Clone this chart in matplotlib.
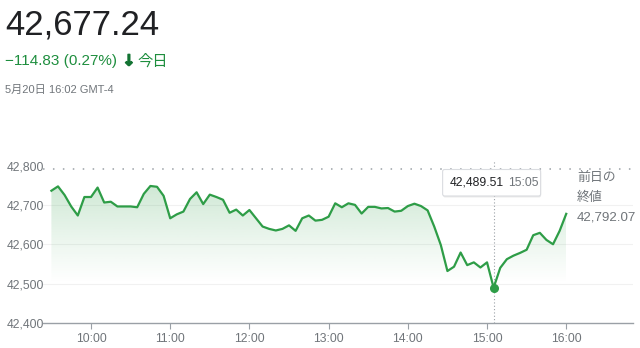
import numpy as np
import matplotlib
matplotlib.use("Agg")
import matplotlib.pyplot as plt
from matplotlib.patches import Polygon, FancyBboxPatch
from matplotlib.colors import to_rgb
from matplotlib.transforms import IdentityTransform
import matplotlib.patheffects as pe

plt.rcParams['font.family'] = ['Liberation Sans', 'Noto Sans CJK JP', 'DejaVu Sans']

# 5-minute closes, 9:30 .. 16:00
prices = [42736, 42747, 42725, 42696, 42673, 42720, 42720, 42744, 42706, 42708,
          42696, 42696, 42696, 42694, 42728, 42748, 42746, 42723, 42666, 42676,
          42683, 42715, 42732, 42702, 42726, 42720, 42713, 42680, 42688, 42673,
          42687, 42666, 42645, 42639, 42635, 42639, 42648, 42634, 42666, 42673,
          42660, 42662, 42670, 42704, 42694, 42704, 42700, 42678, 42695, 42695,
          42691, 42692, 42683, 42685, 42697, 42703, 42697, 42686, 42645, 42598,
          42532, 42543, 42579, 42547, 42554, 42541, 42554, 42489.51, 42540, 42562,
          42571, 42578, 42586, 42623, 42629, 42611, 42600, 42634, 42677.24]
start_hour = 9.5
step_min = 5
prev_close = 42792.07
last_price = 42677.24
change = "−114.83 (0.27%)"
today = "今日"
stamp = "5月20日 16:02 GMT-4"
hour_ticks = [10, 11, 12, 13, 14, 15, 16]
hour_labels = ["10:00", "11:00", "12:00", "13:00", "14:00", "15:00", "16:00"]
y_ticks = [42400, 42500, 42600, 42700, 42800]

GREEN = '#2e9d47'
TXT_GREEN = '#1e8e3e'
GRAY = '#70757a'
W, H = 640, 348

times = start_hour + np.arange(len(prices)) * step_min / 60.0
prices = np.array(prices)
imin = int(np.argmin(prices))
tmin = times[imin]
hh = int(tmin)
mm = int(round((tmin - hh) * 60))

fig = plt.figure(figsize=(W / 100, H / 100), dpi=100)
ax = fig.add_axes([43 / W, 1 - 323 / H, (633 - 43) / W, (323 - 160) / H])

# gradient area under the line
ybot = 42480
poly = Polygon(list(zip(times, prices)) + [(times[-1], ybot), (times[0], ybot)],
               closed=True, facecolor='none', edgecolor='none')
ax.add_patch(poly)
n = 256
rgba = np.zeros((n, 1, 4))
rgba[..., :3] = to_rgb(GREEN)
ys = np.linspace(ybot, 42760, n)
rgba[:, 0, 3] = np.clip((ys - 42500) / (42760 - 42500), 0, 1) ** 1.1 * 0.24
im = ax.imshow(rgba, extent=[times[0], times[-1], ybot, 42760], origin='lower',
               aspect='auto', zorder=1, interpolation='bilinear')
im.set_clip_path(poly)

ax.plot(times, prices, color=GREEN, lw=1.6, zorder=3, solid_joinstyle='round')
ax.plot([tmin], [prices[imin]], 'o', color=GREEN, ms=5.5, zorder=4)

for y in y_ticks[1:-1]:
    ax.axhline(y, color='#f1f1f1', lw=0.8, zorder=0)
ax.axhline(prev_close, color='#9aa0a6', lw=1.1, ls=(0, (1, 5.5)), zorder=2)
ax.axvline(tmin, color='#9aa0a6', lw=0.8, ls=(0, (1, 2)), zorder=2)

ax.set_xlim(9.394, 16.843)
ax.set_ylim(42400, 42814)
ax.set_xticks(hour_ticks)
ax.set_xticklabels(hour_labels)
ax.set_yticks(y_ticks)
ax.set_yticklabels([f"{v:,}" for v in y_ticks])
for s in ['top', 'right', 'left']:
    ax.spines[s].set_visible(False)
ax.spines['bottom'].set_color('#9aa0a6')
ax.spines['bottom'].set_linewidth(1)
ax.tick_params(axis='x', length=4, color='#9aa0a6', pad=3, labelsize=8.7, labelcolor=GRAY)
ax.tick_params(axis='y', length=0, pad=-1, labelsize=8.7, labelcolor=GRAY)

# header
fig.text(5 / W, 1 - 34.5 / H, f"{last_price:,.2f}", fontsize=25, color='#202124', va='baseline')
fig.text(5 / W, 1 - 65.5 / H, change, fontsize=11, color=TXT_GREEN, va='baseline')
fig.text(122.5 / W, 1 - 65.5 / H, "↓", fontsize=11, color='#137333', va='baseline',
         family='DejaVu Sans', fontweight='bold',
         path_effects=[pe.withStroke(linewidth=1.0, foreground='#137333')])
fig.text(137.5 / W, 1 - 65.5 / H, today, fontsize=11, color=TXT_GREEN, va='baseline')
fig.text(5 / W, 1 - 92.5 / H, stamp, fontsize=8, color=GRAY, va='baseline')

# previous close label
fig.text(577 / W, 1 - 178 / H, "前日の", fontsize=9.3, color=GRAY, va='center')
fig.text(577 / W, 1 - 198 / H, "終値", fontsize=9.3, color=GRAY, va='center')
fig.text(577 / W, 1 - 218 / H, f"{prev_close:,.2f}", fontsize=9.6, color=GRAY, va='center')

# tooltip
xd = ax.transData.transform((tmin, 0))[0]
box_l, box_r = xd - 51, xd + 47
box_t, box_b = H - 169.5, H - 196
shadow = FancyBboxPatch((box_l + 0.5, box_b - 1.5), box_r - box_l, box_t - box_b,
                        boxstyle='round,pad=0,rounding_size=2', transform=IdentityTransform(),
                        facecolor='#000000', alpha=0.08, edgecolor='none', zorder=5)
box = FancyBboxPatch((box_l, box_b), box_r - box_l, box_t - box_b,
                     boxstyle='round,pad=0,rounding_size=2', transform=IdentityTransform(),
                     facecolor='white', edgecolor='#dadce0', lw=0.8, zorder=6)
fig.patches.extend([shadow, box])
ty = (box_t + box_b) / 2
fig.text((xd - 43.5) / W, ty / H, f"{prices[imin]:,.2f}", fontsize=8.7, color='#202124',
         va='center', zorder=7)
fig.text((xd + 14.3) / W, ty / H, f"{hh}:{mm:02d}", fontsize=8.7, color=GRAY,
         va='center', zorder=7)

fig.savefig("out.png", dpi=100)
